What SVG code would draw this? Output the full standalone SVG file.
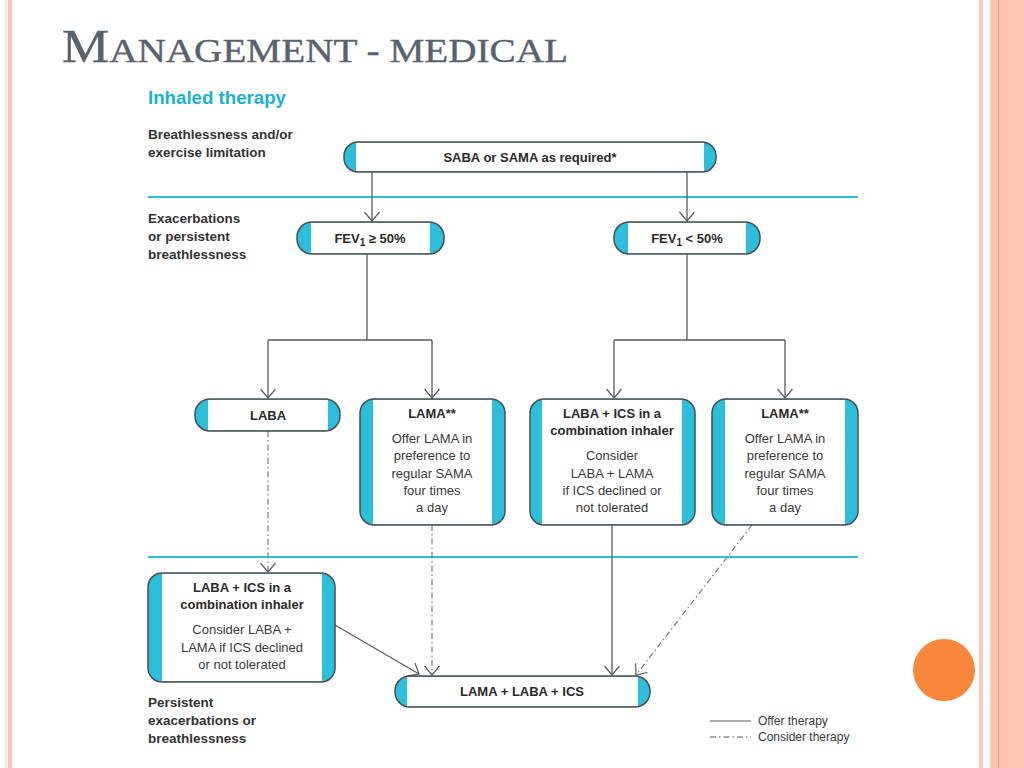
<svg xmlns="http://www.w3.org/2000/svg" width="1024" height="768" viewBox="0 0 1024 768">
<defs>
<style>
.cy{fill:#2bbfdc}
.wh{fill:#ffffff}
.ol{fill:none;stroke:#4d4d4d;stroke-width:1.5}
.lbl{font-family:"Liberation Sans",Arial,sans-serif;font-weight:bold;font-size:13.5px;fill:#333333}
.hd{font-family:"Liberation Sans",Arial,sans-serif;font-weight:bold;font-size:13px;fill:#2a2a2a;text-anchor:middle}
.bd{font-family:"Liberation Sans",Arial,sans-serif;font-size:13px;fill:#3a3a3a;text-anchor:middle}
.lg{font-family:"Liberation Sans",Arial,sans-serif;font-size:12px;fill:#3a3a3a}
.c{fill:none;stroke:#5a5a5a;stroke-width:1.3}
.d{fill:none;stroke:#7a7a7a;stroke-width:1.2;stroke-dasharray:6 3 1.5 3}
.sep{stroke:#2bbfdc;stroke-width:2}
</style>
<marker id="ar" viewBox="0 0 16 16" refX="15" refY="8" markerWidth="16" markerHeight="16" markerUnits="userSpaceOnUse" orient="auto">
<path d="M6,0.5 L15,8 L6,15.5" fill="none" stroke="#5a5a5a" stroke-width="1.2"/>
</marker>
</defs>
<rect width="1024" height="768" fill="#ffffff"/>
<!-- page border stripes -->
<rect x="5" y="0" width="2" height="768" fill="#f6e6dc"/>
<rect x="8" y="0" width="4" height="768" fill="#fbc6b8"/>
<rect x="979" y="0" width="4" height="768" fill="#fbc8b9"/>
<rect x="990" y="0" width="34" height="768" fill="#fdc6b0"/>
<rect x="998" y="0" width="1" height="768" fill="#e9a487"/>
<rect x="1008" y="0" width="16" height="768" fill="#fec9b2"/>
<circle cx="944" cy="670" r="31" fill="#f7873b"/>
<!-- title -->
<text x="62" y="62" font-family="'Liberation Serif','Times New Roman',serif" fill="#58616e" stroke="#58616e" stroke-width="0.4" textLength="506" lengthAdjust="spacingAndGlyphs"><tspan font-size="46">M</tspan><tspan font-size="34">ANAGEMENT - MEDICAL</tspan></text>
<text x="148" y="104" font-family="'Liberation Sans',Arial,sans-serif" font-weight="bold" font-size="18" fill="#1ab2d6" textLength="138" lengthAdjust="spacingAndGlyphs">Inhaled therapy</text>
<!-- row labels -->
<text class="lbl" x="148" y="139">Breathlessness and/or</text>
<text class="lbl" x="148" y="157">exercise limitation</text>
<text class="lbl" x="148" y="223">Exacerbations</text>
<text class="lbl" x="148" y="241">or persistent</text>
<text class="lbl" x="148" y="259">breathlessness</text>
<text class="lbl" x="148" y="707">Persistent</text>
<text class="lbl" x="148" y="725">exacerbations or</text>
<text class="lbl" x="148" y="743">breathlessness</text>
<line class="sep" x1="148" y1="197" x2="858" y2="197"/>
<line class="sep" x1="148" y1="557" x2="858" y2="557"/>
<!-- connectors -->
<g id="connectors">
<path class="c" d="M372,172 V221" marker-end="url(#ar)"/>
<path class="c" d="M687,172 V221" marker-end="url(#ar)"/>
<path class="c" d="M367,254 V340"/>
<path class="c" d="M268,340 H432"/>
<path class="c" d="M268,340 V398" marker-end="url(#ar)"/>
<path class="c" d="M432,340 V398" marker-end="url(#ar)"/>
<path class="c" d="M687,254 V340"/>
<path class="c" d="M614,340 H785"/>
<path class="c" d="M614,340 V398" marker-end="url(#ar)"/>
<path class="c" d="M785,340 V398" marker-end="url(#ar)"/>
<path class="d" d="M268,431 V572" marker-end="url(#ar)"/>
<path class="c" d="M335,625 L419,674" marker-end="url(#ar)"/>
<path class="d" d="M432,525 V675" marker-end="url(#ar)"/>
<path class="c" d="M612,525 V675" marker-end="url(#ar)"/>
<path class="d" d="M752,525 L636,675" marker-end="url(#ar)"/>
</g>
<!-- nodes -->
<g id="saba">
<rect class="cy" x="344" y="142" width="372" height="30" rx="14"/>
<rect class="wh" x="356" y="142.8" width="348" height="28.4"/>
<rect class="ol" x="344" y="142" width="372" height="30" rx="14"/>
<text class="hd" x="530" y="162">SABA or SAMA as required*</text>
</g>
<g id="fev_hi">
<rect class="cy" x="297" y="222" width="147" height="32" rx="15"/>
<rect class="wh" x="311" y="222.8" width="119" height="30.4"/>
<rect class="ol" x="297" y="222" width="147" height="32" rx="15"/>
<text class="hd" x="370" y="243">FEV<tspan font-size="10" dy="3">1</tspan><tspan dy="-3"> ≥ 50%</tspan></text>
</g>
<g id="fev_lo">
<rect class="cy" x="614" y="222" width="146" height="32" rx="15"/>
<rect class="wh" x="628" y="222.8" width="118" height="30.4"/>
<rect class="ol" x="614" y="222" width="146" height="32" rx="15"/>
<text class="hd" x="687" y="243">FEV<tspan font-size="10" dy="3">1</tspan><tspan dy="-3"> &lt; 50%</tspan></text>
</g>
<g id="laba">
<rect class="cy" x="195" y="399" width="145" height="32" rx="15"/>
<rect class="wh" x="208" y="399.8" width="120" height="30.4"/>
<rect class="ol" x="195" y="399" width="145" height="32" rx="15"/>
<text class="hd" x="268" y="420">LABA</text>
</g>
<g id="lama_left">
<rect class="cy" x="360" y="399" width="145" height="126" rx="14"/>
<rect class="wh" x="373" y="399.8" width="119" height="124.4"/>
<rect class="ol" x="360" y="399" width="145" height="126" rx="14"/>
<text class="hd" x="432" y="418">LAMA**</text>
<text class="bd" x="432" y="443">Offer LAMA in</text>
<text class="bd" x="432" y="460">preference to</text>
<text class="bd" x="432" y="478">regular SAMA</text>
<text class="bd" x="432" y="495">four times</text>
<text class="bd" x="432" y="512">a day</text>
</g>
<g id="laba_ics_right">
<rect class="cy" x="530" y="399" width="165" height="126" rx="14"/>
<rect class="wh" x="542" y="399.8" width="140" height="124.4"/>
<rect class="ol" x="530" y="399" width="165" height="126" rx="14"/>
<text class="hd" x="612" y="418">LABA + ICS in a</text>
<text class="hd" x="612" y="435">combination inhaler</text>
<text class="bd" x="612" y="460">Consider</text>
<text class="bd" x="612" y="478">LABA + LAMA</text>
<text class="bd" x="612" y="495">if ICS declined or</text>
<text class="bd" x="612" y="512">not tolerated</text>
</g>
<g id="lama_right">
<rect class="cy" x="712" y="399" width="146" height="126" rx="14"/>
<rect class="wh" x="725" y="399.8" width="120" height="124.4"/>
<rect class="ol" x="712" y="399" width="146" height="126" rx="14"/>
<text class="hd" x="785" y="418">LAMA**</text>
<text class="bd" x="785" y="443">Offer LAMA in</text>
<text class="bd" x="785" y="460">preference to</text>
<text class="bd" x="785" y="478">regular SAMA</text>
<text class="bd" x="785" y="495">four times</text>
<text class="bd" x="785" y="512">a day</text>
</g>
<g id="laba_ics_left">
<rect class="cy" x="148" y="573" width="187" height="109" rx="14"/>
<rect class="wh" x="162" y="573.8" width="160" height="107.4"/>
<rect class="ol" x="148" y="573" width="187" height="109" rx="14"/>
<text class="hd" x="242" y="592">LABA + ICS in a</text>
<text class="hd" x="242" y="609">combination inhaler</text>
<text class="bd" x="242" y="634">Consider LABA +</text>
<text class="bd" x="242" y="652">LAMA if ICS declined</text>
<text class="bd" x="242" y="669">or not tolerated</text>
</g>
<g id="triple">
<rect class="cy" x="395" y="676" width="255" height="31" rx="15"/>
<rect class="wh" x="407" y="676.8" width="231" height="29.4"/>
<rect class="ol" x="395" y="676" width="255" height="31" rx="15"/>
<text class="hd" x="522" y="696">LAMA + LABA + ICS</text>
</g>
<!-- legend -->
<g id="legend">
<line x1="710" y1="721" x2="751" y2="721" stroke="#5a5a5a" stroke-width="1.2"/>
<line x1="710" y1="737" x2="751" y2="737" stroke="#5a5a5a" stroke-width="1.2" stroke-dasharray="6 3 1.5 3"/>
<text class="lg" x="758" y="725">Offer therapy</text>
<text class="lg" x="758" y="741">Consider therapy</text>
</g>
</svg>
